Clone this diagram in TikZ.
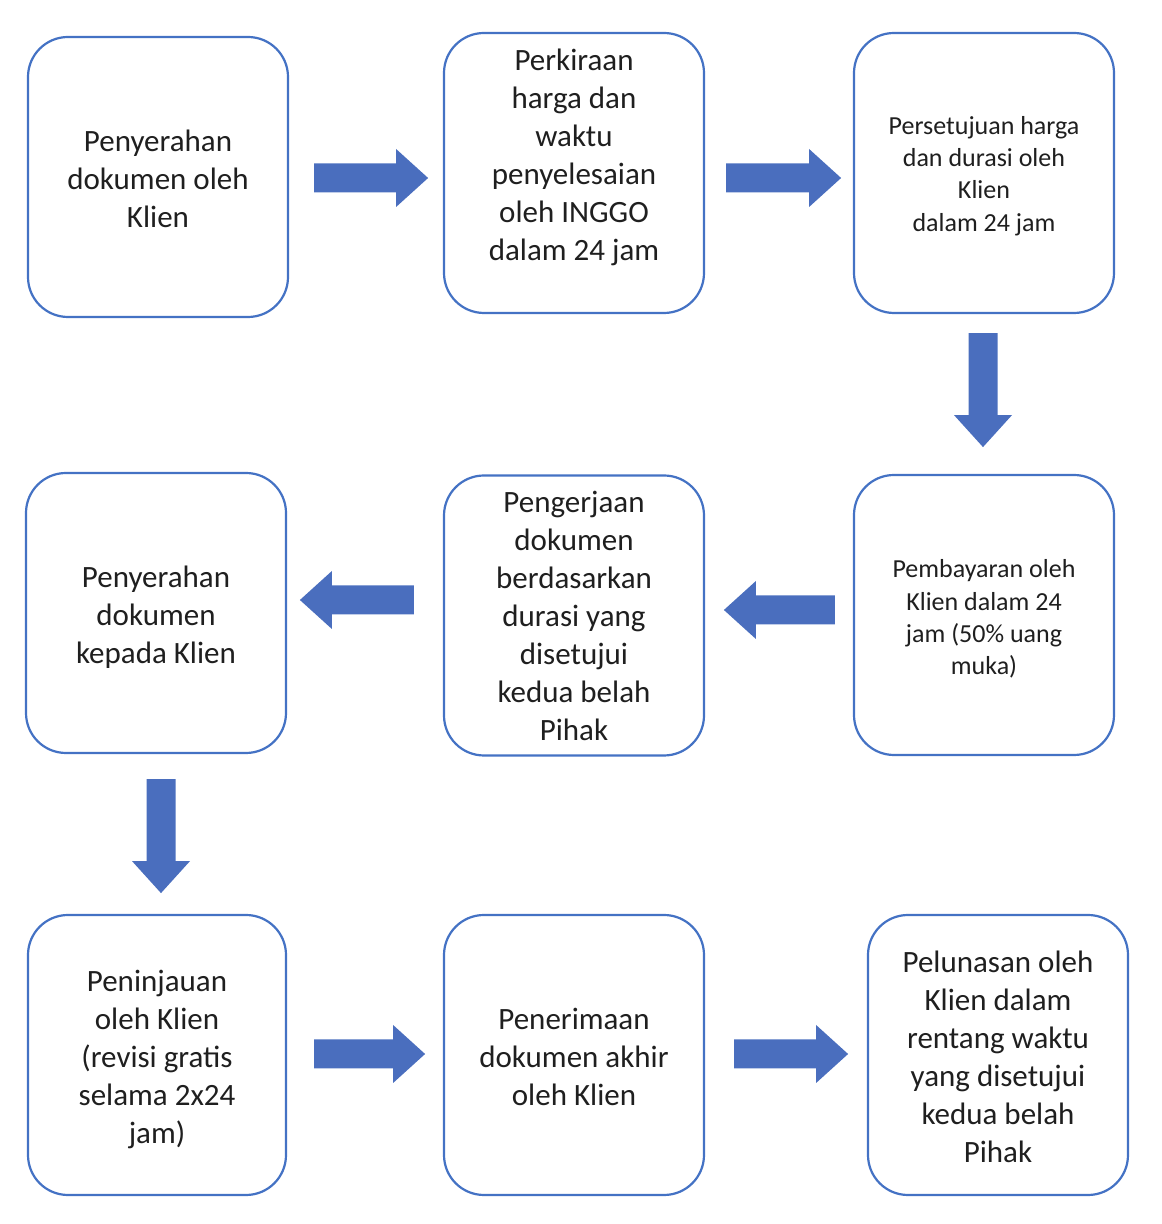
\documentclass[tikz,border=0pt]{standalone}
\usepackage{fontspec}
\setmainfont{Carlito}
\usetikzlibrary{calc}
\definecolor{boxblue}{HTML}{4472C4}
\definecolor{arrowblue}{HTML}{4A6EBE}
\definecolor{txtgray}{HTML}{1F1F1F}
\tikzset{
  stepbox/.style={draw=boxblue, line width=2.2pt, rounded corners=40pt, fill=white,
    minimum width=260pt, minimum height=280pt, inner sep=0pt},
  txt/.style={inner sep=0pt, align=center, text=txtgray, font=\fontsize{31}{38}\selectfont},
  smalltxt/.style={txt, font=\fontsize{26}{32.3}\selectfont},
  arrowfill/.style={fill=arrowblue}
}
% block arrow: start point, direction angle, total length
\newcommand{\blockarrow}[3]{%
  \fill[arrowfill, shift={#1}, rotate=#2]
    (0,-14.5) -- ({#3-32},-14.5) -- ({#3-32},-29) -- (#3,0) -- ({#3-32},29) -- ({#3-32},14.5) -- (0,14.5) -- cycle;}
\begin{document}
\begin{tikzpicture}[x=1pt,y=1pt]
\useasboundingbox (0,0) rectangle (1162,1224);
% boxes
\node[stepbox] (A) at (158,1047) {};
\node[stepbox] (B) at (574,1051) {};
\node[stepbox] (C) at (984,1051) {};
\node[stepbox] (D) at (156,611) {};
\node[stepbox] (E) at (574,608.5) {};
\node[stepbox] (F) at (984,609) {};
\node[stepbox, minimum width=258pt] (G) at (157,169) {};
\node[stepbox] (H) at (574,169) {};
\node[stepbox] (I) at (998,169) {};
% texts
\node[txt] (At) at ($(A.center)+(0,-2)$) {Penyerahan\\dokumen oleh\\Klien};
\node[txt] (Bt) at ($(B.center)+(0,16)$) {Perkiraan\\harga dan\\waktu\\penyelesaian\\oleh INGGO\\dalam 24 jam};
\node[smalltxt] (Ct) at ($(C.center)+(0,-3)$) {Persetujuan harga\\dan durasi oleh\\Klien\\dalam 24 jam};
\node[txt] (Dt) at ($(D.center)+(0,-4)$) {Penyerahan\\dokumen\\kepada Klien};
\node[txt] (Et) at ($(E.center)+(0,0)$) {Pengerjaan\\dokumen\\berdasarkan\\durasi yang\\disetujui\\kedua belah\\Pihak};
\node[smalltxt] (Ft) at ($(F.center)+(0,-4)$) {Pembayaran oleh\\Klien dalam 24\\jam (50\% uang\\muka)};
\node[txt] (Gt) at ($(G.center)+(0,-4)$) {Peninjauan\\oleh Klien\\(revisi gratis\\selama 2x24\\jam)};
\node[txt] (Ht) at ($(H.center)+(0,-2)$) {Penerimaan\\dokumen akhir\\oleh Klien};
\node[txt] (It) at ($(I.center)+(0,-2)$) {Pelunasan oleh\\Klien dalam\\rentang waktu\\yang disetujui\\kedua belah\\Pihak};
% connectors
\blockarrow{($(A.east)+(25,-1)$)}{0}{114}
\blockarrow{($(B.east)+(21,-5)$)}{0}{115}
\blockarrow{($(C.south)+(-1,-19)$)}{-90}{114}
\blockarrow{($(F.west)+(-18,5)$)}{180}{111}
\blockarrow{($(E.west)+(-29,15.5)$)}{180}{114}
\blockarrow{($(D.south)+(5,-25)$)}{-90}{114}
\blockarrow{($(G.east)+(27,1)$)}{0}{111}
\blockarrow{($(H.east)+(29,1)$)}{0}{114}
\end{tikzpicture}
\end{document}
